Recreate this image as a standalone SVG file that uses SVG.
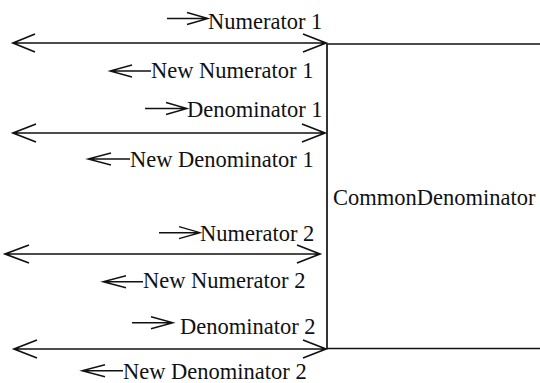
<svg xmlns="http://www.w3.org/2000/svg" width="540" height="383" viewBox="0 0 540 383">
<style>
.t{font-family:"Liberation Serif","Times New Roman",serif;font-size:22.5px;fill:#111}
.ln{stroke:#111;stroke-width:1.7;fill:none}
.sm{stroke:#111;stroke-width:1.4;fill:none}
</style>
<rect width="540" height="383" fill="#fff"/>
<g id="CommonDenominator">
<path class="ln" d="M541,44 H327 V348.5 H541"/>
<text class="t" x="333" y="205">CommonDenominator</text>
</g>
<g id="connectors">
<path class="ln" d="M13,43 H326 M35,34 L13,43 L35,52 M303,34 L326,43 L303,52"/>
<path class="ln" d="M13,133 H325 M36,124 L13,133 L36,142 M302,124 L325,133 L302,142"/>
<path class="ln" d="M5,254 H320 M29,245 L5,254 L29,263 M297,245 L320,254 L297,263"/>
<path class="ln" d="M14,349 H326 M37,340 L14,349 L37,358 M303,340 L326,349 L303,358"/>
</g>
<g id="label-numerator1">
<path class="sm" d="M167,18.5 H208 M187,12.5 L208,18.5 L187,24.5"/>
<text class="t" x="208" y="29">Numerator 1</text>
</g>
<g id="label-newnumerator1">
<path class="sm" d="M151,71 H110 M132,65 L110,71 L132,77"/>
<text class="t" x="151" y="77.5">New Numerator 1</text>
</g>
<g id="label-denominator1">
<path class="sm" d="M145,108.5 H187 M166,102.5 L187,108.5 L166,114.5"/>
<text class="t" x="187" y="117.3">Denominator 1</text>
</g>
<g id="label-newdenominator1">
<path class="sm" d="M130,159 H88 M111,153 L88,159 L111,165"/>
<text class="t" x="130" y="166.5">New Denominator 1</text>
</g>
<g id="label-numerator2">
<path class="sm" d="M159,232.7 H200 M179,226.7 L200,232.7 L179,238.7"/>
<text class="t" x="200" y="241">Numerator 2</text>
</g>
<g id="label-newnumerator2">
<path class="sm" d="M143,281.7 H103 M126,275.7 L103,281.7 L126,287.7"/>
<text class="t" x="143" y="288.3">New Numerator 2</text>
</g>
<g id="label-denominator2">
<path class="sm" d="M132,322.7 H173 M151,316.7 L173,322.7 L151,328.7"/>
<text class="t" x="180" y="334.3">Denominator 2</text>
</g>
<g id="label-newdenominator2">
<path class="sm" d="M123,370.7 H82 M105,364.7 L82,370.7 L105,376.7"/>
<text class="t" x="123" y="378.5">New Denominator 2</text>
</g>
</svg>
